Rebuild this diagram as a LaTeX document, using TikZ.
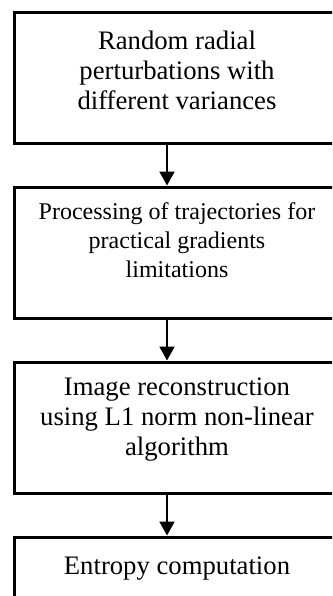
\documentclass[tikz,border=0pt]{standalone}
\usepackage{fontspec}
\setmainfont{Liberation Serif}
\usetikzlibrary{arrows.meta}
\tikzset{
  stepbox/.style={draw=black, line width=3pt, inner sep=0pt, minimum width=327pt, fill=none},
  bigtext/.style={inner sep=0pt, anchor=north, align=center, font=\fontsize{26.7}{30}\selectfont},
  smalltext/.style={inner sep=0pt, anchor=north, align=center, font=\fontsize{24}{29}\selectfont},
  arr/.style={line width=2pt, -{Triangle[length=14pt,width=15pt]}}
}
\begin{document}
\begin{tikzpicture}[x=1pt,y=-1pt]
\useasboundingbox (0,0) rectangle (332,596);
\clip (0,0) rectangle (332,596);
\node[stepbox, minimum height=131pt] (b1) at (177.5,78) {};
\node[stepbox, minimum height=131pt] (b2) at (177.5,252.5) {};
\node[stepbox, minimum height=131pt] (b3) at (177.5,427.5) {};
\node[stepbox, minimum height=150pt] (b4) at (177.5,612) {};
\coordinate (ax) at (167,0);
\node[bigtext] (t1) at (177,31) {Random radial\\perturbations with\\different variances};
\node[smalltext] (t2) at (177,202) {Processing of trajectories for\\practical gradients\\limitations};
\node[bigtext] (t3) at (177,378) {Image reconstruction\\using L1 norm non-linear\\algorithm};
\node[bigtext] (t4) at (177,557) {Entropy computation};
\draw[arr] (b1.south -| ax) -- (b2.north -| ax);
\draw[arr] (b2.south -| ax) -- (b3.north -| ax);
\draw[arr] (b3.south -| ax) -- (b4.north -| ax);
\end{tikzpicture}
\end{document}
